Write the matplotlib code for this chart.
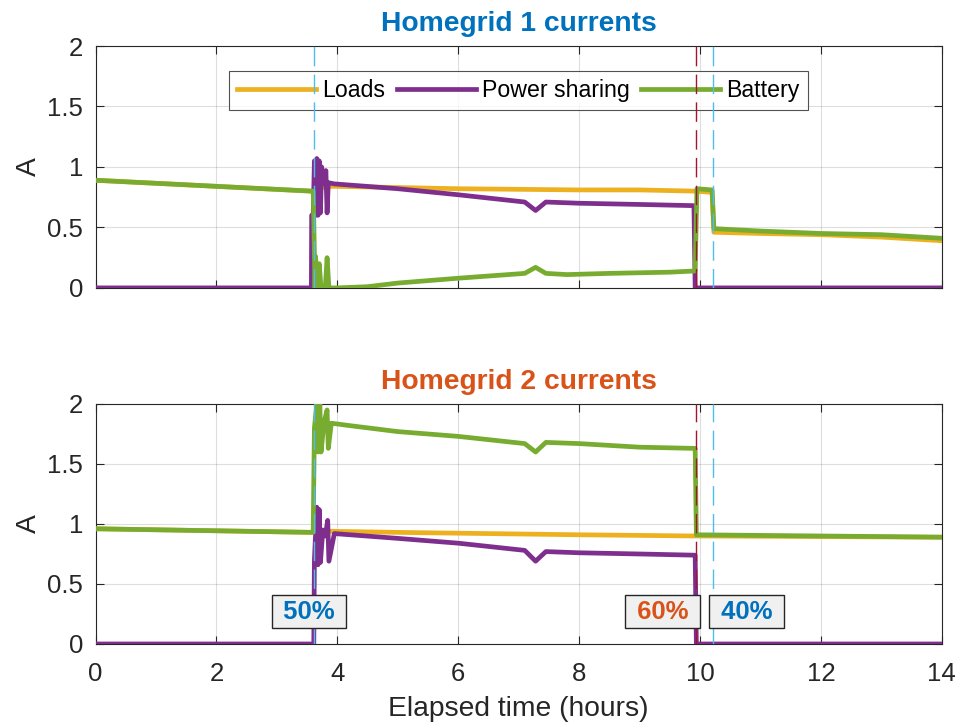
import matplotlib
matplotlib.use("Agg")
import matplotlib.pyplot as plt

plt.rcParams['font.family'] = ['Liberation Sans', 'DejaVu Sans']

# ---------------- data ----------------
# Homegrid 1
hg1_loads_t = [0, 3.58, 3.62, 3.75, 3.9, 5, 6, 7, 8, 9, 9.93, 10.2, 10.23, 11, 12, 13, 14]
hg1_loads_v = [0.89, 0.80, 0.80, 0.83, 0.84, 0.83, 0.82, 0.815, 0.81, 0.81, 0.80, 0.79, 0.46, 0.45, 0.44, 0.42, 0.39]

hg1_share_t = [0, 3.57, 3.575, 3.60, 3.62, 3.64, 3.66, 3.68, 3.70, 3.72, 3.74, 3.78, 3.81, 3.83, 3.85,
               3.95, 5, 6, 7.1, 7.28, 7.45, 8, 9, 9.90, 9.92, 14]
hg1_share_v = [0, 0, 0.6, 0.6, 1.05, 0.6, 1.07, 0.6, 1.05, 0.62, 1.0, 0.86, 0.97, 0.62, 0.87,
               0.86, 0.82, 0.77, 0.71, 0.64, 0.71, 0.70, 0.69, 0.68, 0.0, 0.0]

hg1_batt_t = [0, 3.58, 3.60, 3.61, 3.63, 3.64, 3.66, 3.70, 3.73, 3.80, 3.83, 3.86, 4.0, 4.5, 5, 6, 7.1,
              7.28, 7.45, 7.8, 8.5, 9.5, 9.92, 9.95, 10.2, 10.23, 11, 12, 13, 14]
hg1_batt_v = [0.89, 0.80, 0.80, 0.55, 0.0, 0.26, 0.0, 0.2, 0.0, 0.0, 0.25, 0.0, 0.0, 0.01, 0.04, 0.08, 0.12,
              0.17, 0.12, 0.11, 0.12, 0.13, 0.14, 0.82, 0.81, 0.49, 0.47, 0.45, 0.44, 0.41]

# Homegrid 2
hg2_loads_t = [0, 3.6, 3.8, 5, 6.5, 8, 9.93, 9.95, 12, 14]
hg2_loads_v = [0.96, 0.93, 0.94, 0.93, 0.92, 0.91, 0.90, 0.90, 0.895, 0.89]

hg2_share_t = [0, 3.61, 3.62, 3.66, 3.68, 3.70, 3.72, 3.76, 3.80, 3.84, 3.86, 3.95, 5, 6, 7.1,
               7.28, 7.45, 8, 9, 9.92, 9.94, 14]
hg2_share_v = [0, 0, 0.7, 1.14, 0.66, 1.12, 0.68, 0.95, 0.9, 1.03, 0.69, 0.92, 0.88, 0.84, 0.78,
               0.69, 0.77, 0.76, 0.75, 0.74, 0.0, 0.0]

hg2_batt_t = [0, 3.6, 3.62, 3.66, 3.68, 3.71, 3.73, 3.78, 3.83, 3.85, 3.9, 4.2, 5, 6, 7.1,
              7.28, 7.45, 8, 9, 9.92, 9.94, 12, 14]
hg2_batt_v = [0.96, 0.93, 1.8, 2.0, 1.6, 2.0, 1.6, 1.85, 1.95, 1.63, 1.84, 1.82, 1.77, 1.73, 1.67,
              1.60, 1.68, 1.67, 1.64, 1.63, 0.91, 0.90, 0.89]

# events
event_t = [3.62, 9.93, 10.22]
labels = ["Loads", "Power sharing", "Battery"]
titles = ["Homegrid 1 currents", "Homegrid 2 currents"]
ann_t = [3.53, 9.38, 10.77]
ann_y = [0.27, 0.27, 0.27]
ann_text = ["50%", "60%", "40%"]

# ---------------- styles ----------------
c_load = "#EDB120"
c_share = "#7E2F8E"
c_batt = "#77AC30"
c_blue = "#0072BD"
c_orange = "#D95319"
c_light = "#4DBEEE"
c_dred = "#A2142F"
event_colors = [c_light, c_dred, c_light]
FS = 18.5

fig = plt.figure(figsize=(9.59, 7.27), dpi=100)
ax1 = fig.add_axes([0.0997, 0.604, 0.8823, 0.3327])
ax2 = fig.add_axes([0.0997, 0.1142, 0.8823, 0.3301])

series = [
    (ax1, hg1_loads_t, hg1_loads_v, hg1_share_t, hg1_share_v, hg1_batt_t, hg1_batt_v),
    (ax2, hg2_loads_t, hg2_loads_v, hg2_share_t, hg2_share_v, hg2_batt_t, hg2_batt_v),
]
handles = None
for i, (ax, lt, lv, st, sv, bt, bv) in enumerate(series):
    h1, = ax.plot(lt, lv, color=c_load, lw=3.4, label=labels[0], zorder=3)
    h2, = ax.plot(st, sv, color=c_share, lw=3.4, label=labels[1], zorder=4)
    h3, = ax.plot(bt, bv, color=c_batt, lw=3.4, label=labels[2], zorder=5)
    if handles is None:
        handles = [h1, h2, h3]
    for et, ec in zip(event_t, event_colors):
        ax.axvline(et, color=ec, lw=1.0, ls=(0, (14, 6)), zorder=6)
    ax.set_xlim(0, 14)
    ax.set_ylim(0, 2)
    ax.set_xticks(range(0, 15, 2))
    ax.set_yticks([0, 0.5, 1, 1.5, 2])
    ax.set_yticklabels(["0", "0.5", "1", "1.5", "2"])
    ax.grid(True, color="#262626", alpha=0.15, lw=0.8)
    ax.set_axisbelow(True)
    ax.tick_params(direction="in", length=6, width=0.8, labelsize=FS, colors="#262626",
                   top=True, right=True)
    ax.tick_params(axis="y", pad=9)
    ax.tick_params(axis="x", pad=13)
    for sp in ax.spines.values():
        sp.set_color("#262626")
        sp.set_linewidth(0.8)
    ax.set_ylabel("A", fontsize=FS * 1.1, color="#262626", labelpad=4)
    ax.set_title(titles[i], fontsize=FS * 1.1, fontweight="bold",
                 color=c_blue if i == 0 else c_orange, pad=11)

ax1.tick_params(labelbottom=False)
ax2.set_xlabel("Elapsed time (hours)", fontsize=FS * 1.1, color="#262626", labelpad=7)

leg = ax1.legend(handles=handles, loc="center", bbox_to_anchor=(0.5, 0.816), ncol=3,
                 fontsize=FS * 0.9, frameon=True, fancybox=False, edgecolor="#262626",
                 handlelength=3.4, columnspacing=0.5, handletextpad=0.28, borderpad=0.35)
leg.get_frame().set_linewidth(0.8)

ann_colors = [c_blue, c_orange, c_blue]
for at, ay, txt, ac in zip(ann_t, ann_y, ann_text, ann_colors):
    ax2.text(at, ay, " " + txt + " ", color=ac, fontsize=FS, fontweight="bold", ha="center",
             va="center", zorder=10,
             bbox=dict(boxstyle="square,pad=0.17", facecolor="#F0F0F0", edgecolor="#262626", lw=1.0))

fig.savefig("out.png", dpi=100)
